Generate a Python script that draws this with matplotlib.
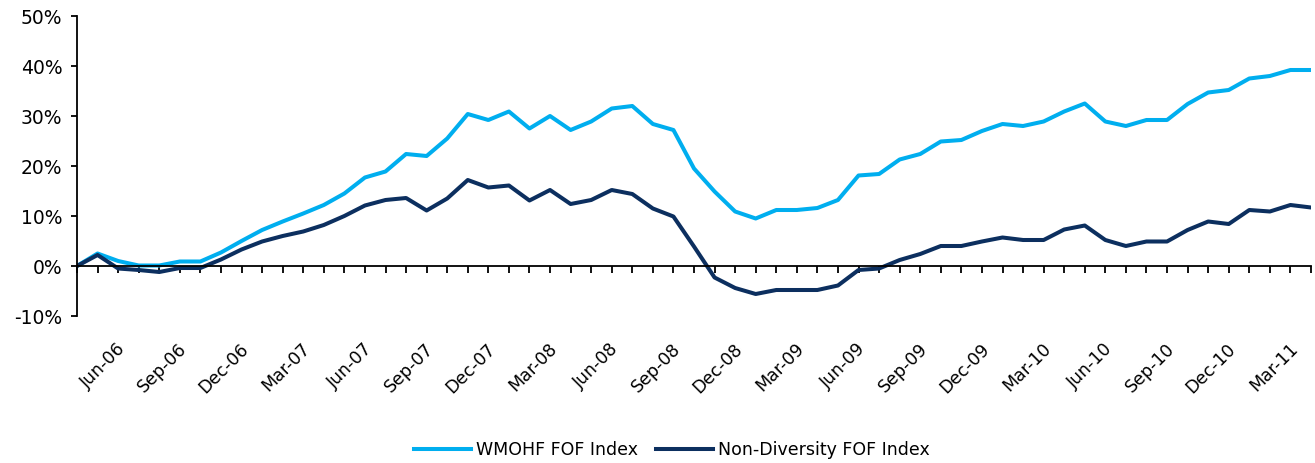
import matplotlib
matplotlib.use("Agg")
import matplotlib.pyplot as plt
import matplotlib.transforms as mtransforms
import numpy as np

# Monthly data May-06 .. May-11 (cumulative return, %)
months = ["May-06", "Jun-06", "Jul-06", "Aug-06", "Sep-06", "Oct-06", "Nov-06", "Dec-06",
          "Jan-07", "Feb-07", "Mar-07", "Apr-07", "May-07", "Jun-07", "Jul-07", "Aug-07",
          "Sep-07", "Oct-07", "Nov-07", "Dec-07", "Jan-08", "Feb-08", "Mar-08", "Apr-08",
          "May-08", "Jun-08", "Jul-08", "Aug-08", "Sep-08", "Oct-08", "Nov-08", "Dec-08",
          "Jan-09", "Feb-09", "Mar-09", "Apr-09", "May-09", "Jun-09", "Jul-09", "Aug-09",
          "Sep-09", "Oct-09", "Nov-09", "Dec-09", "Jan-10", "Feb-10", "Mar-10", "Apr-10",
          "May-10", "Jun-10", "Jul-10", "Aug-10", "Sep-10", "Oct-10", "Nov-10", "Dec-10",
          "Jan-11", "Feb-11", "Mar-11", "Apr-11", "May-11"]

wmohf = [0.0, 2.5, 1.0, 0.1, 0.1, 0.9, 0.9, 2.7, 5.0, 7.2,
         8.9, 10.5, 12.2, 14.5, 17.7, 18.9, 22.4, 22.0, 25.5, 30.4,
         29.2, 30.9, 27.5, 30.0, 27.2, 28.9, 31.5, 32.0, 28.4, 27.2,
         19.5, 14.9, 10.9, 9.5, 11.2, 11.2, 11.6, 13.2, 18.1, 18.4,
         21.3, 22.4, 24.9, 25.2, 27.0, 28.4, 28.0, 28.9, 30.9, 32.5,
         28.9, 28.0, 29.2, 29.2, 32.4, 34.7, 35.2, 37.5, 38.0, 39.2, 39.2]

nondiv = [0.0, 2.2, -0.5, -0.8, -1.2, -0.4, -0.4, 1.3, 3.3, 4.9,
          6.0, 6.9, 8.2, 10.0, 12.1, 13.2, 13.6, 11.1, 13.5, 17.2,
          15.7, 16.1, 13.1, 15.2, 12.4, 13.2, 15.2, 14.4, 11.5, 9.9,
          3.9, -2.3, -4.4, -5.6, -4.8, -4.8, -4.8, -3.9, -0.8, -0.5,
          1.2, 2.4, 4.0, 4.0, 4.9, 5.7, 5.2, 5.2, 7.3, 8.1,
          5.2, 4.0, 4.9, 4.9, 7.2, 8.9, 8.4, 11.2, 10.9, 12.2, 11.7]

series_names = ["WMOHF FOF Index", "Non-Diversity FOF Index"]
y_ticks = [-10, 0, 10, 20, 30, 40, 50]
label_every = 3
label_start = 1  # Jun-06

plt.rcParams['font.family'] = ['DejaVu Sans']

fig = plt.figure(figsize=(13.15, 4.63), dpi=100)
ax = fig.add_axes([77 / 1315, 1 - 316 / 463, (1311 - 77) / 1315, 300 / 463])

x = np.arange(len(months))
ax.plot(x, wmohf, color="#00AEEF", lw=2.9, label=series_names[0], solid_joinstyle='round')
ax.plot(x, nondiv, color="#0C2F5F", lw=2.9, label=series_names[1], solid_joinstyle='round')

ax.set_xlim(0, len(months) - 1)
ax.set_ylim(-10, 50)

for s in ["top", "right"]:
    ax.spines[s].set_visible(False)
ax.spines["left"].set_linewidth(1.3)
ax.spines["bottom"].set_linewidth(1.3)
ax.spines["bottom"].set_position(("data", 0))

ax.set_yticks(y_ticks)
ax.set_yticklabels([f"{v}%" for v in y_ticks], fontsize=13.5)
ax.tick_params(axis="y", direction="out", length=4.5, width=1.3, pad=6, colors="black")

ax.set_xticks(x)
ax.set_xticklabels([])
ax.tick_params(axis="x", direction="out", length=4.8, width=1.3)

trans = mtransforms.blended_transform_factory(ax.transData, ax.transAxes)
offset = mtransforms.ScaledTranslation(25 / 100, -30 / 100, fig.dpi_scale_trans)
for i in range(label_start, len(months), label_every):
    ax.text(i, 0.0, months[i], transform=trans + offset, rotation=45,
            rotation_mode="anchor", ha="right", va="center", fontsize=12.5)

fig.legend(loc="center", bbox_to_anchor=(672 / 1315, 1 - 450 / 463), ncol=2,
           frameon=False, fontsize=12.5, handlelength=3.3, columnspacing=1.0,
           handletextpad=0.3)

fig.savefig("out.png", dpi=100)
